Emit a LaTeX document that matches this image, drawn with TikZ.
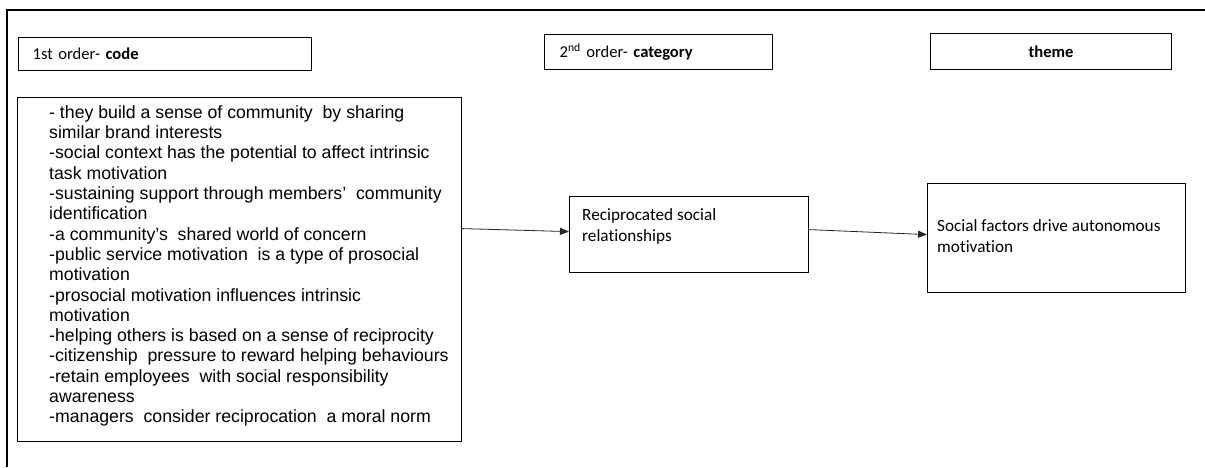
\documentclass[tikz,border=0pt]{standalone}
\usepackage{fontspec}
\setmainfont{Carlito}[Ligatures=NoCommon]
\newfontfamily\arialf{Liberation Sans}
\usetikzlibrary{arrows.meta}
\begin{document}
\begin{tikzpicture}[x=1pt,y=-1pt,
  box/.style={draw=black, line width=1.2pt, inner sep=0pt, rectangle, anchor=north west},
  hdr/.style={box, font=\fontsize{16.6}{19}\selectfont},
  conn/.style={draw=black!85, line width=0.8pt, -{Triangle[length=9pt,width=7pt]}},
  lbl/.style={font=\fontsize{17.2}{21}\selectfont, align=left, inner sep=0pt, anchor=north west},
  lblA/.style={font=\arialf\fontsize{17.7}{20.33}\selectfont, align=left, inner sep=0pt, anchor=north west}]
\useasboundingbox (0,0) rectangle (1205,467);
% outer frame
\draw[line width=1.1pt] (7,467) -- (7,10) -- (1205,10);
% headers
\node[hdr, minimum width=293, minimum height=33, text width=265, inner xsep=14, align=left] (h1) at (18,37) {1st order- \textbf{code}};
\node[hdr, minimum width=228, minimum height=35, text width=198, inner xsep=15, align=left] (h2) at (544,34) {2\textsuperscript{nd} order- \textbf{category}};
\node[hdr, minimum width=241, minimum height=36, text width=211, inner xsep=15, align=center] (h3) at (930,33) {\textbf{theme}};
% codes
\node[box, minimum width=444, minimum height=344,
  label={[lblA, xshift=32, yshift=-8]north west:{- they build a sense of community\ \ by sharing\\
similar brand interests\\
-social context has the potential to affect intrinsic\\
task motivation\\
-sustaining support through members’\ \ community\\
identification\\
-a community’s\ \ shared world of concern\\
-public service motivation\ \ is a type of prosocial\\
motivation\\
-prosocial motivation influences intrinsic\\
motivation\\
-helping others is based on a sense of reciprocity\\
-citizenship\ \ pressure to reward helping behaviours\\
-retain employees\ \ with social responsibility\\
awareness\\
-managers\ \ consider reciprocation\ \ a moral norm}}] (codes) at (17,97) {};
% category
\node[box, minimum width=239, minimum height=76,
  label={[lbl, xshift=13, yshift=-12]north west:{Reciprocated social\\relationships}}] (rec) at (569,196) {};
% theme
\node[box, minimum width=258, minimum height=109,
  label={[lbl, xshift=10, yshift=-36.5]north west:{Social factors drive autonomous\\motivation}}] (soc) at (927,183) {};
% connectors
\draw[conn] ([yshift=41pt]codes.east) -- ([yshift=3pt]rec.west);
\draw[conn] ([yshift=5pt]rec.east) -- ([yshift=3.5pt]soc.west);
\end{tikzpicture}
\end{document}
